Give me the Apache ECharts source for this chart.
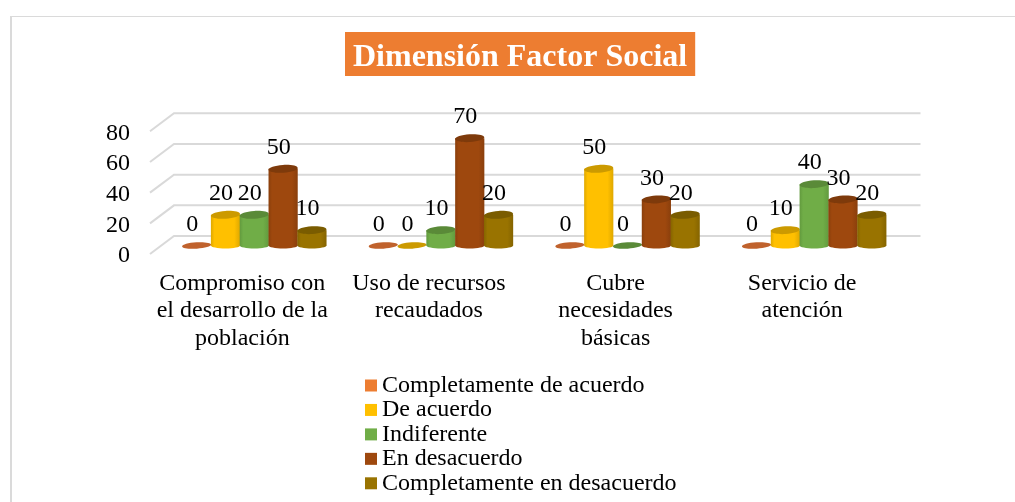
<!DOCTYPE html>
<html><head><meta charset="utf-8">
<style>html,body{margin:0;padding:0;background:#fff}#c{width:1015px;height:502px}</style>
<script src="https://cdn.jsdelivr.net/npm/echarts@6/dist/echarts.min.js"></script>
</head><body><div id="c"></div>
<script>
const categories = ["Compromiso con\nel desarrollo de la\npoblación","Uso de recursos\nrecaudados","Cubre\nnecesidades\nbásicas","Servicio de\natención"];
const seriesNames = ["Completamente de acuerdo","De acuerdo","Indiferente","En desacuerdo","Completamente en desacuerdo"];
const completamenteDeAcuerdo = [0,0,0,0];
const deAcuerdo = [20,0,50,10];
const indiferente = [20,10,0,40];
const enDesacuerdo = [50,70,30,30];
const completamenteEnDesacuerdo = [10,20,20,20];
const yTicks = [0,20,40,60,80];
const seriesValues = [completamenteDeAcuerdo,deAcuerdo,indiferente,enDesacuerdo,completamenteEnDesacuerdo];

const FONT = '"Liberation Serif","Times New Roman",serif';
const base = ['#ED7D31','#FFC000','#70AD47','#9E480E','#997300'];
const edge = ['#C96A2A','#DFA800','#629A3E','#8A3F0C','#856400'];
const topc = ['#C0622D','#CC9A00','#5A8A38','#7E3A0B','#7A5C00'];

function cylinder(idx){
  return function(params, api){
    const cat = api.value(0), v = api.value(1);
    const band = api.size([1,0])[0];
    const step = band*0.1544;
    const p0 = api.coord([cat,0]), p = api.coord([cat,v]);
    const cx = p0[0] + (idx-2)*step, baseY = p0[1], topY = p[1];
    const rx = 14.6, ry = 3.9, tilt = 0.06;
    const grad = () => new echarts.graphic.LinearGradient(0,0,1,0,[
      {offset:0,color:edge[idx]},{offset:0.12,color:base[idx]},{offset:0.8,color:base[idx]},{offset:1,color:edge[idx]}]);
    const kids = [];
    if (v > 0) {
      kids.push({type:'ellipse',shape:{cx:cx,cy:baseY,rx:rx,ry:3},style:{fill:grad()}});
      kids.push({type:'rect',shape:{x:cx-rx,y:topY,width:rx*2,height:baseY-topY},style:{fill:grad()}});
      kids.push({type:'ellipse',originX:cx,originY:topY,rotation:tilt,shape:{cx:cx,cy:topY,rx:rx,ry:ry},style:{fill:topc[idx]}});
    } else {
      kids.push({type:'ellipse',originX:cx,originY:topY,rotation:tilt,shape:{cx:cx,cy:topY,rx:rx,ry:3.2},style:{fill:topc[idx]}});
    }
    kids.push({type:'text',z2:100,style:{text:String(v),x:cx-4.5,y:topY-21,align:'center',verticalAlign:'middle',font:'24px '+FONT,fill:'#000'}});
    return {type:'group',children:kids};
  };
}
function wall(params, api){
  const v = api.value(0);
  const p = api.coord([0,v]);
  const size = api.size([1,0])[0];
  const gridL = p[0]-size/2, gridR = gridL+size*categories.length;
  return {type:'polyline',shape:{points:[[gridL-11,p[1]+8.5],[gridL+13,p[1]-9.5],[gridR+13,p[1]-9.5]]},
    style:{fill:null,stroke:'#D9D9D9',lineWidth:2}};
}
const series = [{
  type:'custom',name:'wall',silent:true,renderItem:wall,
  data:yTicks.map(t=>[t]),encode:{y:0}
}].concat(seriesNames.map((n,i)=>({
  type:'custom',name:n,renderItem:cylinder(i),itemStyle:{color:base[i]},
  data:seriesValues[i].map((v,k)=>[k,v]),encode:{x:0,y:1}
})));

const chart = echarts.init(document.getElementById('c'),null,{renderer:'canvas'});
chart.setOption({
  animation:false,
  backgroundColor:'#fff',
  title:{text:'Dimensión Factor Social',left:345,top:32,backgroundColor:'#ED7D31',padding:[10,8,2,8],
    textStyle:{color:'#fff',fontFamily:FONT,fontWeight:'bold',fontSize:32,lineHeight:32}},
  legend:{orient:'vertical',left:365,top:373.5,padding:0,itemWidth:12,itemHeight:12,itemGap:0.45,icon:'rect',
    data:seriesNames,textStyle:{fontFamily:FONT,fontSize:24,color:'#000',lineHeight:24}},
  grid:{left:161,top:122.8,width:746.5,height:122.7},
  xAxis:{type:'category',data:categories,axisLine:{show:false},axisTick:{show:false},splitLine:{show:false},
    axisLabel:{interval:0,margin:24,fontFamily:FONT,fontSize:24,color:'#000',lineHeight:27.5,padding:[0,24,0,0]}},
  yAxis:{type:'value',min:0,max:80,interval:20,axisLine:{show:false},axisTick:{show:false},splitLine:{show:false},
    axisLabel:{margin:31,fontFamily:FONT,fontSize:24,color:'#000',verticalAlign:'top',lineHeight:21}},
  graphic:[
    {type:'rect',silent:true,shape:{x:10,y:16,width:1005,height:1},style:{fill:'#DADADA'}},
    {type:'rect',silent:true,shape:{x:10,y:16,width:2,height:486},style:{fill:'#DADADA'}}
  ],
  series:series
});
</script></body></html>
